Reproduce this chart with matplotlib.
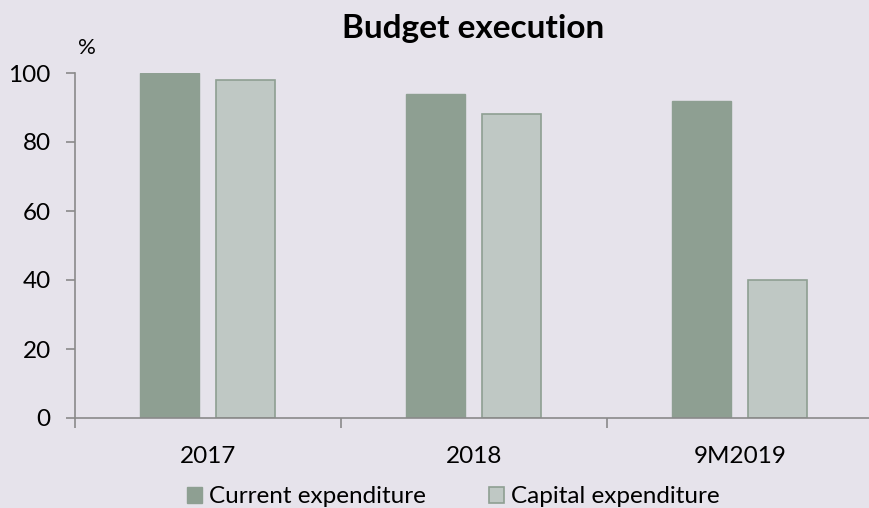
import numpy as np
import matplotlib.pyplot as plt

# Budget execution by year, percent
categories = ['2017', '2018', '9M2019']
current_exp = [100, 94, 92]
capital_exp = [98, 88, 40]

bg = '#E6E3EB'
dark = '#8E9F92'
light = '#BFC8C4'
axis_col = '#8A8A8A'

plt.rcParams['font.family'] = ['Lato', 'DejaVu Sans']

fig = plt.figure(figsize=(8.7, 5.08), dpi=100, facecolor=bg)
ax = fig.add_axes([75 / 870, 1 - 418 / 508, 1 - 75 / 870, (418 - 73) / 508])
ax.set_facecolor(bg)

x = np.arange(len(categories))
w = 0.222
off = 0.143
ax.bar(x - off, current_exp, width=w, color=dark, edgecolor=dark, linewidth=1,
       label='Current expenditure')
ax.bar(x + off, capital_exp, width=w, color=light, edgecolor=dark, linewidth=1.2,
       label='Capital expenditure')

ax.set_ylim(0, 100)
ax.set_xlim(-0.5, 2.49)
ax.set_yticks([0, 20, 40, 60, 80, 100])
ax.tick_params(axis='y', labelsize=17.5, length=6.5, color=axis_col, width=1.2, pad=11)

# tick marks on category boundaries, labels at category centres
ax.set_xticks([-0.5, 0.5, 1.5])
ax.set_xticklabels([])
ax.tick_params(axis='x', which='major', length=7, color=axis_col, width=1.2)
ax.set_xticks(x, minor=True)
ax.set_xticklabels(categories, minor=True)
ax.tick_params(axis='x', which='minor', length=0, labelsize=17.5, pad=20)

for s in ['top', 'right']:
    ax.spines[s].set_visible(False)
for s in ['left', 'bottom']:
    ax.spines[s].set_color(axis_col)
    ax.spines[s].set_linewidth(1.2)

fig.text(0.09, 0.905, '%', fontsize=16, ha='left', va='center')
fig.text(0.544, 0.925, 'Budget execution', fontsize=24, fontweight='bold',
         ha='center', va='baseline')

fig.legend(loc='lower center', bbox_to_anchor=(0.521, -0.042), ncol=2,
           frameon=False, fontsize=17.5, handlelength=0.6, handleheight=0.6,
           handletextpad=0.3, columnspacing=2.6)

fig.savefig('out.png', dpi=100, facecolor=bg)
